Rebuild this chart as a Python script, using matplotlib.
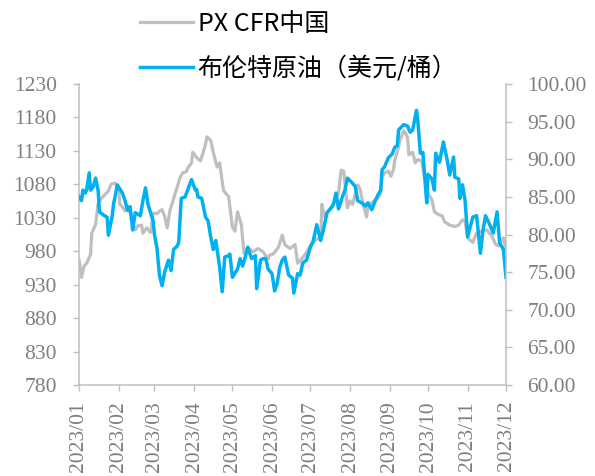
import matplotlib
matplotlib.use("Agg")
import matplotlib.pyplot as plt
import matplotlib.dates as mdates
import pandas as pd

# ---- data ----
px_dates = ["01-01","01-03","01-05","01-07","01-10","01-11","01-14","01-16","01-19","01-21",
            "01-24","01-26","01-29","02-01","02-02","02-04","02-06","02-08","02-10","02-11",
            "02-14","02-16","02-19","02-20","02-23","02-26","02-28","03-03","03-05","03-07",
            "03-09","03-11","03-13","03-15","03-17","03-19","03-21","03-23","03-26","03-27",
            "03-30","03-31","04-03","04-06","04-08","04-10","04-11","04-14","04-16","04-19",
            "04-21","04-24","04-26","04-28","05-01","05-03","05-05","05-08","05-10","05-13",
            "05-17","05-21","05-25","05-29","05-30","06-02","06-06","06-09","06-11","06-15",
            "06-19","06-21","06-24","06-28","07-02","07-06","07-09","07-10","07-12","07-15",
            "07-18","07-20","07-23","07-25","07-27","07-30","08-01","08-03","08-07","08-09",
            "08-11","08-14","08-15","08-18","08-21","08-23","08-25","08-26","08-28","08-31",
            "09-02","09-04","09-05","09-08","09-09","09-12","09-13","09-15","09-16","09-19",
            "09-21","09-23","09-26","09-29","10-01","10-04","10-06","10-09","10-12","10-14",
            "10-18","10-22","10-25","10-28","10-30","11-01","11-05","11-08","11-12","11-16",
            "11-20","11-23","11-25","11-29","12-01"]
px_values = [967, 941, 958, 962, 975, 1007, 1020, 1052, 1060, 1064,
             1070, 1080, 1082, 1072, 1050, 1046, 1040, 1047, 1037, 1027,
             1012, 1018, 1019, 1007, 1015, 1008, 1037, 1036, 1040, 1042,
             1032, 1015, 1040, 1052, 1065, 1077, 1090, 1097, 1099, 1104,
             1112, 1128, 1120, 1115, 1127, 1140, 1151, 1146, 1128, 1106,
             1112, 1071, 1066, 1062, 1016, 1010, 1039, 1020, 977, 986,
             979, 984, 979, 968, 974, 976, 986, 1004, 990, 984,
             990, 962, 968, 978, 992, 998, 1000, 1050, 1032, 1040,
             1045, 1057, 1066, 1101, 1100, 1045, 1055, 1050, 1079, 1072,
             1052, 1031, 1050, 1052, 1057, 1060, 1067, 1091, 1097, 1100,
             1092, 1102, 1116, 1136, 1146, 1160, 1158, 1150, 1124, 1128,
             1112, 1117, 1115, 1082, 1067, 1057, 1039, 1035, 1033, 1024,
             1019, 1017, 1019, 1027, 1025, 1000, 993, 1007, 1010, 1012,
             1002, 990, 988, 1000, 983]

brent_dates = ["01-01","01-03","01-04","01-06","01-07","01-09","01-10","01-12","01-13","01-14",
               "01-16","01-17","01-20","01-23","01-24","01-27","01-28","01-31","02-01","02-04",
               "02-06","02-08","02-10","02-12","02-14","02-15","02-18","02-20","02-22","02-24",
               "02-26","02-28","03-01","03-03","03-05","03-07","03-09","03-12","03-14","03-16",
               "03-19","03-20","03-22","03-25","03-27","03-30","04-02","04-03","04-04","04-07",
               "04-10","04-12","04-14","04-16","04-18","04-21","04-23","04-25","04-28","04-29",
               "05-01","05-05","05-07","05-09","05-11","05-13","05-16","05-19","05-20","05-23",
               "05-25","05-27","05-29","06-01","06-03","06-05","06-07","06-09","06-11","06-14",
               "06-17","06-18","06-21","06-23","06-25","06-28","07-01","07-03","07-06","07-09",
               "07-11","07-14","07-16","07-19","07-21","07-23","07-26","07-28","07-30","08-03",
               "08-05","08-07","08-10","08-13","08-15","08-18","08-21","08-23","08-25","08-26",
               "08-28","08-31","09-03","09-05","09-07","09-08","09-12","09-15","09-17","09-19",
               "09-22","09-23","09-25","09-27","09-30","10-01","10-04","10-06","10-07","10-10",
               "10-13","10-16","10-18","10-21","10-22","10-25","10-26","10-28","10-30","11-01",
               "11-05","11-08","11-11","11-13","11-15","11-18","11-21","11-24","11-26","11-29",
               "12-01"]
brent_values = [85.0, 84.5, 85.9, 85.5, 86.0, 88.2, 85.9, 86.3, 86.9, 87.5,
                85.8, 83.0, 82.6, 82.3, 79.9, 82.5, 84.0, 86.6, 86.3, 85.5,
                84.5, 83.2, 83.7, 80.6, 82.9, 82.8, 82.5, 84.5, 86.2, 84.0,
                82.9, 81.8, 80.0, 78.2, 74.5, 73.2, 75.0, 76.6, 75.2, 78.0,
                78.5, 79.0, 84.8, 85.0, 85.9, 87.3, 85.9, 86.0, 85.0, 84.8,
                82.3, 81.8, 79.7, 78.0, 79.2, 75.7, 72.4, 77.0, 77.2, 77.4,
                74.3, 75.4, 76.8, 75.8, 77.0, 78.3, 76.8, 77.2, 72.8, 76.6,
                76.8, 76.8, 75.4, 74.8, 72.5, 73.5, 75.6, 76.6, 77.0, 74.6,
                74.2, 72.2, 74.8, 74.6, 76.2, 76.6, 78.3, 79.0, 81.3, 79.2,
                80.5, 82.9, 83.3, 84.0, 85.5, 83.4, 85.0, 85.9, 87.5, 86.8,
                86.4, 84.5, 84.2, 83.8, 84.2, 83.3, 84.6, 85.3, 85.9, 88.6,
                89.0, 90.2, 90.7, 91.6, 91.8, 93.9, 94.6, 94.4, 93.6, 93.9,
                96.5, 95.2, 90.8, 90.9, 84.2, 88.0, 87.4, 85.9, 90.8, 89.6,
                92.3, 89.9, 87.9, 90.3, 87.6, 87.4, 84.8, 86.6, 84.5, 79.7,
                82.3, 82.5, 77.5, 80.6, 82.5, 81.4, 80.2, 83.0, 78.9, 78.0,
                74.3]

px_label = "PX CFR中国"
brent_label = "布伦特原油（美元/桶）"
left_ticks = [780, 830, 880, 930, 980, 1030, 1080, 1130, 1180, 1230]
right_ticks = [60, 65, 70, 75, 80, 85, 90, 95, 100]

# ---- styling ----
GRAY_LINE = "#BFBFBF"
BLUE_LINE = "#00B0F0"
SPINE = "#BFBFBF"
TICK_TEXT = "#7F7F7F"

px_x = pd.to_datetime(["2023-" + d for d in px_dates])
br_x = pd.to_datetime(["2023-" + d for d in brent_dates])

fig = plt.figure(figsize=(5.95, 4.76), dpi=100)
ax = fig.add_axes([79/595, 1 - 385/476, 427/595, 301/476])
ax2 = ax.twinx()

l1, = ax.plot(px_x, px_values, color=GRAY_LINE, lw=2.3, label=px_label, solid_joinstyle="round")
l2, = ax2.plot(br_x, brent_values, color=BLUE_LINE, lw=2.5, label=brent_label, solid_joinstyle="round")

ax.set_xlim(pd.Timestamp("2023-01-01"), pd.Timestamp("2023-12-01"))
ax.set_ylim(780, 1230)
ax2.set_ylim(60, 100)
ax.set_yticks(left_ticks)
ax2.set_yticks(right_ticks)
ax2.set_yticklabels([f"{v:.2f}" for v in right_ticks])

ax.xaxis.set_major_locator(mdates.MonthLocator())
ax.xaxis.set_major_formatter(mdates.DateFormatter("%Y/%m"))

serif = ["Liberation Serif", "DejaVu Serif"]
for a in (ax, ax2):
    a.spines["top"].set_visible(False)
    for s in a.spines.values():
        s.set_color(SPINE)
        s.set_linewidth(1.1)
ax.spines["right"].set_visible(False)
ax2.spines["left"].set_visible(False)
ax2.spines["bottom"].set_visible(False)

ax.tick_params(axis="y", direction="out", length=4.5, width=1.0, color=SPINE,
               labelcolor=TICK_TEXT, pad=11.5, labelsize=15.5)
ax2.tick_params(axis="y", direction="out", length=4.5, width=1.0, color=SPINE,
                labelcolor=TICK_TEXT, pad=11, labelsize=15.5)
ax.tick_params(axis="x", direction="out", length=4.5, width=1.0, color=SPINE,
               labelcolor=TICK_TEXT, pad=7, labelsize=15.5, labelrotation=90)
for lab in ax.get_xticklabels() + ax.get_yticklabels() + ax2.get_yticklabels():
    lab.set_family(serif)

leg = fig.legend(handles=[l1, l2], loc="upper left", bbox_to_anchor=(140/595, 1 - 11/476),
                 frameon=False, borderpad=0, borderaxespad=0, handlelength=2.1,
                 handletextpad=0.2, labelspacing=0.75,
                 prop={"family": ["Noto Sans CJK SC", "DejaVu Sans"], "size": 18})
for t in leg.get_texts():
    t.set_color("#000000")

fig.savefig("out.png", dpi=100)
